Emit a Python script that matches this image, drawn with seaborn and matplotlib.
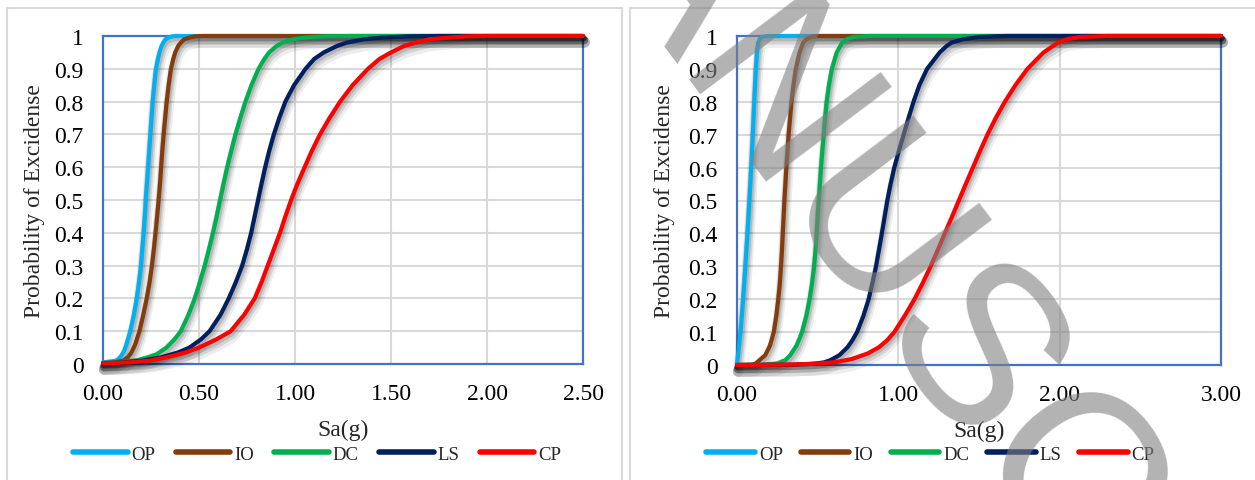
import numpy as np
import pandas as pd
import matplotlib
matplotlib.use("Agg")
import matplotlib.pyplot as plt
import matplotlib.patheffects as pe
from matplotlib.patches import Rectangle
from matplotlib.lines import Line2D
import seaborn as sns

# ---------------- data ----------------
states = ["OP", "IO", "DC", "LS", "CP"]
colors = ["#00B0F0", "#843C0C", "#00B050", "#002060", "#FF0000"]

# left panel
left_op_x = [0, 0.04, 0.065, 0.08, 0.095, 0.11, 0.122, 0.142, 0.161, 0.176, 0.188, 0.198, 0.205, 0.212, 0.218,
             0.223, 0.229, 0.235, 0.241, 0.247, 0.253, 0.259, 0.267, 0.276, 0.286, 0.294, 0.305, 0.314, 0.325,
             0.34, 0.36, 0.38, 2.5]
left_op_y = [0.005, 0.008, 0.01, 0.015, 0.025, 0.04, 0.06, 0.1, 0.15, 0.2, 0.25, 0.3, 0.35, 0.4, 0.45,
             0.5, 0.55, 0.6, 0.65, 0.7, 0.75, 0.8, 0.85, 0.9, 0.93, 0.95, 0.97, 0.98, 0.99,
             0.995, 0.999, 1.0, 1.0]
left_io_x = [0, 0.06, 0.104, 0.128, 0.147, 0.168, 0.19, 0.21, 0.228, 0.243, 0.255, 0.265, 0.274, 0.282, 0.29,
             0.297, 0.303, 0.309, 0.316, 0.324, 0.332, 0.342, 0.354, 0.366, 0.376, 0.392, 0.406, 0.423, 0.45,
             0.48, 0.52, 2.5]
left_io_y = [0.003, 0.005, 0.01, 0.02, 0.034, 0.06, 0.1, 0.15, 0.2, 0.25, 0.3, 0.35, 0.4, 0.45, 0.5,
             0.55, 0.6, 0.65, 0.7, 0.75, 0.8, 0.85, 0.9, 0.93, 0.95, 0.97, 0.98, 0.99, 0.995,
             0.999, 1.0, 1.0]
left_dc_x = [0, 0.1, 0.18, 0.23, 0.28, 0.33, 0.372, 0.405, 0.445, 0.478, 0.505, 0.53, 0.552, 0.573, 0.592,
             0.61, 0.628, 0.647, 0.668, 0.69, 0.715, 0.742, 0.773, 0.81, 0.84, 0.865, 0.905, 0.935, 0.99,
             1.05, 1.15, 1.3, 2.5]
left_dc_y = [0.003, 0.006, 0.012, 0.02, 0.03, 0.05, 0.075, 0.1, 0.15, 0.2, 0.25, 0.3, 0.35, 0.4, 0.45,
             0.5, 0.55, 0.6, 0.65, 0.7, 0.75, 0.8, 0.85, 0.9, 0.93, 0.95, 0.97, 0.98, 0.99,
             0.995, 0.999, 1.0, 1.0]
left_ls_x = [0, 0.1, 0.2, 0.3, 0.39, 0.45, 0.51, 0.555, 0.612, 0.655, 0.692, 0.725, 0.75, 0.772, 0.79,
             0.808, 0.826, 0.845, 0.866, 0.89, 0.918, 0.95, 0.995, 1.055, 1.1, 1.15, 1.22, 1.27, 1.36,
             1.45, 1.6, 1.75, 2.5]
left_ls_y = [0.002, 0.005, 0.01, 0.02, 0.035, 0.05, 0.075, 0.1, 0.15, 0.2, 0.25, 0.3, 0.35, 0.4, 0.45,
             0.5, 0.55, 0.6, 0.65, 0.7, 0.75, 0.8, 0.85, 0.9, 0.93, 0.95, 0.97, 0.98, 0.99,
             0.995, 0.999, 1.0, 1.0]
left_cp_x = [0, 0.14, 0.24, 0.33, 0.43, 0.5, 0.59, 0.665, 0.735, 0.79, 0.826, 0.858, 0.89, 0.922, 0.95,
             0.98, 1.013, 1.05, 1.088, 1.13, 1.18, 1.235, 1.3, 1.38, 1.44, 1.5, 1.57, 1.63, 1.7,
             1.8, 1.9, 2.0, 2.5]
left_cp_y = [0.002, 0.005, 0.01, 0.02, 0.035, 0.05, 0.075, 0.1, 0.15, 0.2, 0.25, 0.3, 0.35, 0.4, 0.45,
             0.5, 0.55, 0.6, 0.65, 0.7, 0.75, 0.8, 0.85, 0.9, 0.93, 0.95, 0.97, 0.98, 0.99,
             0.995, 0.999, 1.0, 1.0]

# right panel
right_op_x = [0, 0.022, 0.038, 0.052, 0.065, 0.077, 0.088, 0.098, 0.107, 0.117, 0.124, 0.132, 0.14, 0.155,
              0.19, 3.0]
right_op_y = [0, 0.1, 0.2, 0.3, 0.4, 0.5, 0.6, 0.7, 0.8, 0.9, 0.95, 0.98, 0.99, 0.997,
              1.0, 1.0]
right_io_x = [0, 0.09, 0.115, 0.135, 0.175, 0.205, 0.228, 0.244, 0.256, 0.266, 0.273, 0.279, 0.284, 0.289,
              0.294, 0.3, 0.306, 0.313, 0.32, 0.329, 0.338, 0.35, 0.365, 0.388, 0.41, 0.43, 0.46, 0.5, 3.0]
right_io_y = [0, 0.001, 0.004, 0.013, 0.03, 0.06, 0.1, 0.15, 0.2, 0.25, 0.3, 0.35, 0.4, 0.45,
              0.5, 0.55, 0.6, 0.65, 0.7, 0.75, 0.8, 0.85, 0.9, 0.95, 0.98, 0.99, 0.997, 1.0, 1.0]
right_dc_x = [0, 0.17, 0.25, 0.3, 0.33, 0.37, 0.403, 0.43, 0.45, 0.466, 0.478, 0.487, 0.494, 0.5,
              0.507, 0.514, 0.521, 0.529, 0.538, 0.546, 0.556, 0.57, 0.588, 0.618, 0.64, 0.652, 0.68,
              0.72, 0.82, 3.0]
right_dc_y = [0, 0.001, 0.005, 0.015, 0.03, 0.06, 0.1, 0.15, 0.2, 0.25, 0.3, 0.35, 0.4, 0.45,
              0.5, 0.55, 0.6, 0.65, 0.7, 0.75, 0.8, 0.85, 0.9, 0.95, 0.97, 0.98, 0.99,
              0.997, 1.0, 1.0]
right_ls_x = [0, 0.35, 0.48, 0.54, 0.58, 0.635, 0.685, 0.715, 0.744, 0.784, 0.816, 0.84, 0.862, 0.88,
              0.898, 0.915, 0.932, 0.952, 0.975, 1.003, 1.033, 1.063, 1.094, 1.13, 1.178, 1.256, 1.3,
              1.33, 1.4, 1.5, 1.67, 3.0]
right_ls_y = [0, 0.001, 0.004, 0.008, 0.015, 0.03, 0.054, 0.075, 0.1, 0.15, 0.2, 0.25, 0.3, 0.35,
              0.4, 0.45, 0.5, 0.55, 0.6, 0.65, 0.7, 0.75, 0.8, 0.85, 0.9, 0.95, 0.97,
              0.98, 0.99, 0.997, 1.0, 1.0]
right_cp_x = [0, 0.3, 0.45, 0.6, 0.71, 0.81, 0.88, 0.93, 0.975, 1.04, 1.1, 1.152, 1.2, 1.245,
              1.288, 1.332, 1.375, 1.418, 1.462, 1.506, 1.552, 1.603, 1.66, 1.725, 1.8, 1.9, 1.96,
              1.99, 2.04, 2.13, 2.29, 3.0]
right_cp_y = [0, 0.001, 0.003, 0.008, 0.018, 0.035, 0.054, 0.075, 0.1, 0.15, 0.2, 0.25, 0.3, 0.35,
              0.4, 0.45, 0.5, 0.55, 0.6, 0.65, 0.7, 0.75, 0.8, 0.85, 0.9, 0.95, 0.97,
              0.98, 0.99, 0.997, 1.0, 1.0]

left_xticks = [0.0, 0.5, 1.0, 1.5, 2.0, 2.5]
right_xticks = [0.0, 1.0, 2.0, 3.0]
yticks = [0, 0.1, 0.2, 0.3, 0.4, 0.5, 0.6, 0.7, 0.8, 0.9, 1.0]
ytick_labels = ["0", "0.1", "0.2", "0.3", "0.4", "0.5", "0.6", "0.7", "0.8", "0.9", "1"]
xlabel = "Sa(g)"
ylabel = "Probability of Excidense"
watermark = "MANUSCRIPT"


def build(series):
    frames = []
    for name, (xs, ys) in zip(states, series):
        frames.append(pd.DataFrame({"Sa": xs, "P": ys, "State": name}))
    return pd.concat(frames, ignore_index=True)


df_left = build([(left_op_x, left_op_y), (left_io_x, left_io_y), (left_dc_x, left_dc_y),
                 (left_ls_x, left_ls_y), (left_cp_x, left_cp_y)])
df_right = build([(right_op_x, right_op_y), (right_io_x, right_io_y), (right_dc_x, right_dc_y),
                  (right_ls_x, right_ls_y), (right_cp_x, right_cp_y)])

# ---------------- styling ----------------
sns.set_theme(style="white")
plt.rcParams["font.family"] = ["Liberation Serif", "DejaVu Serif"]

W, H = 1255, 481
fig = plt.figure(figsize=(W / 100, H / 100), dpi=100)

# panel (chart area) borders
for (x0, x1) in [(7, 622), (630, 1262)]:
    fig.patches.append(Rectangle((x0 / W, -0.05), (x1 - x0) / W, (H - 9) / H + 0.05,
                                 transform=fig.transFigure, fill=False,
                                 edgecolor="#d9d9d9", linewidth=1.5, zorder=0))

axL = fig.add_axes([103 / W, 1 - 365 / H, 480 / W, 328 / H])
axR = fig.add_axes([737 / W, 1 - 366 / H, 484 / W, 329 / H])

shadow = [pe.SimpleLineShadow(offset=(1.0, -4.5), shadow_color="black", alpha=0.07, linewidth=8),
          pe.SimpleLineShadow(offset=(0.8, -3.0), shadow_color="black", alpha=0.10, linewidth=6),
          pe.SimpleLineShadow(offset=(0.5, -1.6), shadow_color="black", alpha=0.14, linewidth=4.5),
          pe.Normal()]

panels = [(axL, df_left, 2.5, left_xticks, 0.2526, -0.142, 2.9, 1.1),
          (axR, df_right, 3.0, right_xticks, 0.7414, -0.149, 2.6, 0.95)]

for ax, df, xmax, xt, legx, ylx, hl, cs in panels:
    sns.lineplot(data=df, x="Sa", y="P", hue="State", hue_order=states, palette=colors,
                 estimator=None, sort=False, linewidth=3, ax=ax, legend=False,
                 clip_on=False, zorder=4, solid_capstyle="round", solid_joinstyle="round",
                 path_effects=shadow)
    ax.set_xlim(0, xmax)
    ax.set_ylim(0, 1)
    ax.set_xticks(xt)
    ax.set_xticklabels([f"{v:.2f}" for v in xt])
    ax.set_yticks(yticks)
    ax.set_yticklabels(ytick_labels)
    ax.grid(True, color="#d9d9d9", linewidth=1.5)
    ax.set_axisbelow(True)
    for s in ax.spines.values():
        s.set_visible(True)
        s.set_color("#4472C4")
        s.set_linewidth(1.6)
        s.set_zorder(2.5)
    ax.tick_params(axis="both", length=0, labelsize=17, colors="black")
    ax.tick_params(axis="y", pad=14)
    ax.tick_params(axis="x", pad=14)
    ax.set_xlabel(xlabel, fontsize=17)
    ax.set_ylabel(ylabel, fontsize=17)
    ax.xaxis.set_label_coords(0.5, -0.198)
    ax.xaxis.label.set_va("center")
    ax.yaxis.set_label_coords(ylx, 0.5)
    ax.yaxis.label.set_va("center")

    handles = [Line2D([0], [0], color=c, linewidth=4, solid_capstyle="round") for c in colors]
    fig.legend(handles, states, loc="center", bbox_to_anchor=(legx, 1 - 455 / H),
               ncol=5, frameon=False, fontsize=13.5, handlelength=hl,
               handletextpad=0.2, columnspacing=cs)

# watermark overlay
fig.text(985 / W, 1 - 360 / H, watermark, fontsize=165, rotation=-53,
         rotation_mode="anchor", ha="center", va="center_baseline", color="#808080",
         alpha=0.6, family="Liberation Sans", zorder=10)

fig.savefig("out.png", dpi=100)
